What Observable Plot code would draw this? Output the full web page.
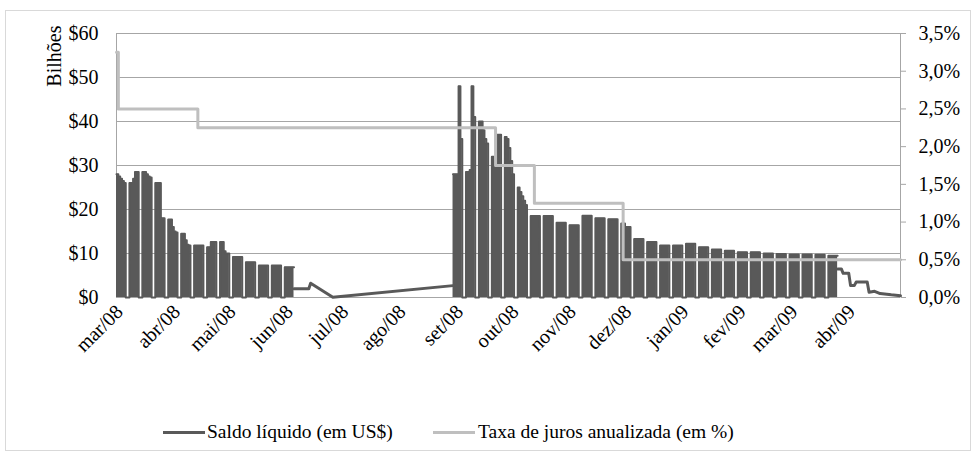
<!DOCTYPE html>
<html>
<head>
<meta charset="utf-8">
<script src="https://cdn.jsdelivr.net/npm/d3@7"></script>
<script src="https://cdn.jsdelivr.net/npm/@observablehq/plot@0.6"></script>
<style>
  body { margin: 0; background: #fff; font-family: "Liberation Serif", "Times New Roman", serif; }
  #chart { position: absolute; left: 5px; top: 10px; width: 964px; height: 439px; border: 1px solid #d9d9d9; background: #fff; }
  #chart svg { display: block; }
  .leg { position: absolute; top: 409px; font-size: 19.5px; line-height: 24px; color: #000; white-space: nowrap; }
  .sw { position: absolute; top: 11px; width: 42px; height: 3px; }
</style>
</head>
<body>
<div id="chart"></div>
<script>
// ---- Dados ----
// Semanas com saldo diário (seg..sex); fins de semana com saldo zero
const inicioBloco1 = "2008-03-17";
const saldoBloco1 = [
  [28, 27.5, 27, 26.5, 26],
  [26, 26, 27, 28.5, 28.5],
  [28.5, 28.5, 28, 27.5, 27.3],
  [26, 26, 26, 18, 18],
  [17.7, 17.7, 16, 15, 14.8],
  [14.5, 14.5, 13, 12, 11.8],
  [11.8],
  [11.4, 11.4, 12.6, 12.6, 12.6],
  [12.6, 12.6, 10.5, 10, 10],
  [9.2],
  [8.0],
  [7.3],
  [7.3],
  [6.9]
];
const inicioBloco2 = "2008-09-15";
const saldoBloco2 = [
  [28, 28, 28, 48, 36],
  [28.5, 28.5, 29, 48, 41],
  [40, 40, 38, 36, 35],
  [32, 31, 30, 37, 37],
  [36.5, 36, 34, 31, 28],
  [25, 24, 23, 22, 21],
  [18.5],
  [18.5],
  [17],
  [16.4],
  [18.6],
  [18],
  [17.8],
  [16.8, 16],
  [13.3],
  [12.6],
  [11.8],
  [11.8],
  [12.2],
  [11.4],
  [10.9],
  [10.6],
  [10.3],
  [10.3],
  [10.0],
  [9.9],
  [9.8],
  [9.8],
  [9.7],
  [9.5]
];
// Trechos sem o padrão semanal
const datasVerao = ["2008-06-21", "2008-06-29", "2008-06-30", "2008-07-12", "2008-09-15"];
const saldoVerao = [2.0, 2.0, 3.25, 0.05, 2.7];
const datasFinal = ["2009-04-11", "2009-04-13", "2009-04-14", "2009-04-17", "2009-04-18", "2009-04-20", "2009-04-21",
  "2009-04-27", "2009-04-28", "2009-05-01", "2009-05-04", "2009-05-10", "2009-05-15"];
const saldoFinal = [6.5, 6.5, 5.5, 5.5, 2.7, 2.7, 3.5, 3.5, 1.2, 1.4, 0.9, 0.6, 0.4];
// Taxa de juros (em %)
const datasTaxa = ["2008-03-17", "2008-03-18", "2008-04-30", "2008-10-08", "2008-10-29", "2008-12-16", "2009-05-15"];
const taxa = [3.25, 2.5, 2.25, 1.75, 1.25, 0.5, 0.5];
// Eixos
const dominioDatas = ["2008-03-17", "2009-05-15"];
const datasRotulos = ["2008-03-17", "2008-04-17", "2008-05-17", "2008-06-17", "2008-07-17", "2008-08-17", "2008-09-17",
  "2008-10-17", "2008-11-17", "2008-12-17", "2009-01-17", "2009-02-17", "2009-03-17", "2009-04-17"];
const rotulosMeses = ["mar/08", "abr/08", "mai/08", "jun/08", "jul/08", "ago/08", "set/08",
  "out/08", "nov/08", "dez/08", "jan/09", "fev/09", "mar/09", "abr/09"];
const ticksSaldo = [0, 10, 20, 30, 40, 50, 60];
const ticksTaxa = [0, 0.5, 1, 1.5, 2, 2.5, 3, 3.5];
const maxSaldo = 60, maxTaxa = 3.5;

// ---- Tabelas ----
const DIA = 864e5;
const escalaTaxa = v => v * maxSaldo / maxTaxa;
function blocos(inicio, semanas, run) {
  const t0 = new Date(inicio).getTime();
  const out = [];
  semanas.forEach((vals, w) => {
    const base = t0 + w * 7 * DIA;
    const n = vals.length;
    vals.forEach((v, i) => out.push({ data: new Date(base + Math.floor(i * 5 / n) * DIA), v, run }));
    const ultimo = w === semanas.length - 1;
    out.push({ data: new Date(base + 5 * DIA), v: ultimo ? vals[n - 1] : 0, run });
  });
  return out;
}
const semanal = [...blocos(inicioBloco1, saldoBloco1, 1), ...blocos(inicioBloco2, saldoBloco2, 2)];
const trechos = [
  ...datasVerao.map((d, i) => ({ data: new Date(d), v: saldoVerao[i], run: "verao" })),
  ...datasFinal.map((d, i) => ({ data: new Date(d), v: saldoFinal[i], run: "final" }))
];
const linhaTaxa = datasTaxa.map((d, i) => ({ data: new Date(d), t: taxa[i] }));
const dom = dominioDatas.map(d => new Date(d));
const rotDatas = datasRotulos.map(d => new Date(d));

const cinzaGrade = "#a6a6a6";
const escuro = "#595959";
const fonte = "'Liberation Serif', 'Times New Roman', serif";
const tam = 20;

const plot = Plot.plot({
  width: 964,
  height: 395,
  marginLeft: 110,
  marginRight: 70,
  marginTop: 22,
  marginBottom: 109,
  style: { fontFamily: fonte, fontSize: tam + "px", color: "#000", background: "transparent", overflow: "visible" },
  x: { type: "utc", domain: dom },
  y: { domain: [0, maxSaldo] },
  marks: [
    Plot.ruleY(ticksSaldo, { stroke: cinzaGrade, strokeWidth: 1 }),
    Plot.ruleX([dom[0], dom[1]], { stroke: cinzaGrade, strokeWidth: 1 }),
    Plot.areaY(semanal, { x: "data", y: "v", z: "run", curve: "step-after", fill: escuro }),
    Plot.line(semanal, { x: "data", y: "v", z: "run", curve: "step-after", stroke: escuro, strokeWidth: 2, strokeLinejoin: "round" }),
    Plot.line(trechos, { x: "data", y: "v", z: "run", stroke: escuro, strokeWidth: 3, strokeLinejoin: "round" }),
    Plot.line(linhaTaxa, { x: "data", y: d => escalaTaxa(d.t), curve: "step-after", stroke: "#bfbfbf", strokeWidth: 3 }),
    Plot.axisY({ anchor: "left", ticks: ticksSaldo, tickFormat: d => "$" + d, tickSize: 0, tickPadding: 18, label: null, fontSize: tam }),
    Plot.axisY({ anchor: "right", ticks: ticksTaxa.map(escalaTaxa), tickFormat: d => (d * maxTaxa / maxSaldo).toFixed(1).replace(".", ",") + "%",
      tickSize: 5, tickPadding: 13, stroke: cinzaGrade, label: null, fontSize: tam }),
    Plot.axisX({ ticks: rotDatas, tickFormat: (d, i) => rotulosMeses[i], tickRotate: -45, tickSize: 0, tickPadding: 11, dx: 3, label: null, fontSize: tam }),
    Plot.text(["Bilhões"], { frameAnchor: "top-left", rotate: -90, textAnchor: "end", dx: -70, dy: -8, fontSize: tam })
  ]
});
const chart = document.getElementById("chart");
chart.appendChild(plot);

// Legenda
const legenda = [
  { nome: "Saldo líquido (em US$)", cor: escuro, left: 157, text: 201 },
  { nome: "Taxa de juros anualizada (em %)", cor: "#bfbfbf", left: 427, text: 472 }
];
legenda.forEach(l => {
  const sw = document.createElement("div");
  sw.className = "leg";
  sw.style.left = l.left + "px";
  sw.innerHTML = `<span class="sw" style="left:0;background:${l.cor}"></span>`;
  chart.appendChild(sw);
  const t = document.createElement("div");
  t.className = "leg";
  t.style.left = l.text + "px";
  t.textContent = l.nome;
  chart.appendChild(t);
});
</script>
</body>
</html>
